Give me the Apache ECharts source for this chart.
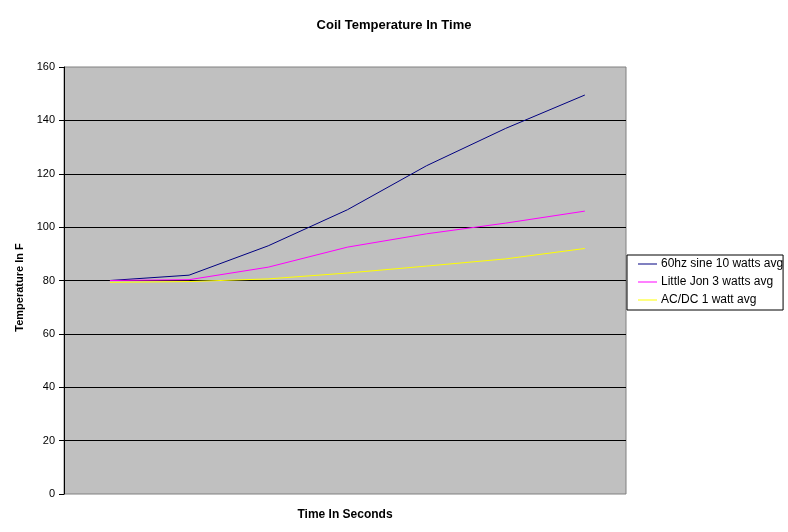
<!DOCTYPE html>
<html>
<head>
<meta charset="utf-8">
<script src="https://cdn.jsdelivr.net/npm/echarts@6/dist/echarts.min.js"></script>
<style>
  html, body { margin: 0; padding: 0; background: #ffffff; }
  #chart { width: 788px; height: 532px; }
</style>
</head>
<body>
<div id="chart"></div>
<script>
// Time samples (unlabeled on the x axis)
const timeSteps = [0, 1, 2, 3, 4, 5, 6];
const seriesNames = ['60hz sine 10 watts avg', 'Little Jon 3 watts avg', 'AC/DC 1 watt avg'];
const sine60hz = [80, 82, 93, 106.5, 123, 137, 149.5];
const littleJon = [80, 80.3, 85, 92.5, 97.5, 101.5, 106];
const acdc = [79.3, 79.6, 80.6, 82.8, 85.4, 88.1, 92];
const yTicks = [0, 20, 40, 60, 80, 100, 120, 140, 160];

const FONT = '"Liberation Sans", Arial, sans-serif';
const toPairs = vals => timeSteps.map((t, i) => [t, vals[i]]);

const chart = echarts.init(document.getElementById('chart'));
chart.setOption({
  animation: false,
  backgroundColor: '#ffffff',
  title: {
    text: 'Coil Temperature In Time',
    left: 'center',
    top: 14,
    textStyle: { fontFamily: FONT, fontSize: 13, fontWeight: 'bold', color: '#000' }
  },
  legend: {
    orient: 'vertical',
    left: 627,
    top: 255,
    padding: [2, 0, 3, 11],
    itemGap: 4,
    itemWidth: 19,
    itemHeight: 1,
    icon: 'rect',
    backgroundColor: '#ffffff',
    borderColor: '#000000',
    borderWidth: 1,
    borderRadius: 0,
    textStyle: { fontFamily: FONT, fontSize: 12, color: '#000', lineHeight: 14, padding: [0, 0, 0, -1] },
    data: seriesNames
  },
  grid: {
    left: 64,
    right: 162,
    top: 67,
    bottom: 38,
    show: true,
    backgroundColor: '#C0C0C0',
    borderColor: '#808080',
    borderWidth: 1
  },
  xAxis: {
    type: 'value',
    min: -0.58,
    max: 6.52,
    name: 'Time In Seconds',
    nameLocation: 'middle',
    nameGap: 15,
    nameTextStyle: { fontFamily: FONT, fontSize: 12, fontWeight: 'bold', color: '#000' },
    axisLine: { show: false },
    axisTick: { show: false },
    axisLabel: { show: false },
    splitLine: { show: false }
  },
  yAxis: {
    type: 'value',
    min: yTicks[0],
    max: yTicks[yTicks.length - 1],
    interval: yTicks[1] - yTicks[0],
    name: 'Temperature In F',
    nameLocation: 'middle',
    nameGap: 38,
    nameTextStyle: { fontFamily: FONT, fontSize: 11, fontWeight: 'bold', color: '#000', padding: [0, 14, 0, 0] },
    axisLine: { show: true, onZero: false, lineStyle: { color: '#000', width: 1 } },
    axisTick: { show: true, length: 5, lineStyle: { color: '#000' } },
    axisLabel: { fontFamily: FONT, fontSize: 11, color: '#000', margin: 9 },
    splitLine: { show: true, showMinLine: false, showMaxLine: false, lineStyle: { color: '#000', width: 1 } }
  },
  series: [
    { name: seriesNames[0], type: 'line', data: toPairs(sine60hz), symbol: 'none', color: '#000080', lineStyle: { width: 1, color: '#000080' } },
    { name: seriesNames[1], type: 'line', data: toPairs(littleJon), symbol: 'none', color: '#FF00FF', lineStyle: { width: 1, color: '#FF00FF' } },
    { name: seriesNames[2], type: 'line', data: toPairs(acdc), symbol: 'none', color: '#FFFF00', lineStyle: { width: 1, color: '#FFFF00' } }
  ]
});
</script>
</body>
</html>
